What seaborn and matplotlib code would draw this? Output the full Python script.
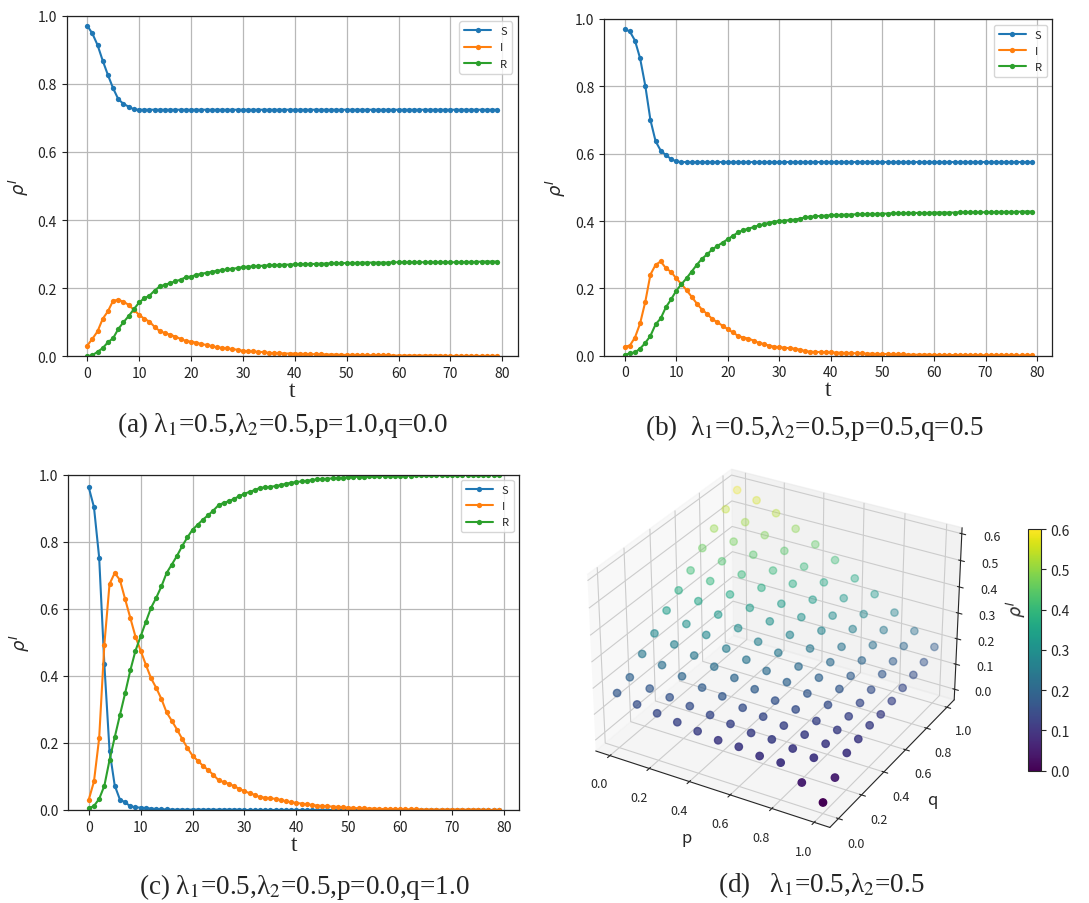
import numpy as np
import matplotlib
matplotlib.use("Agg")
import matplotlib.pyplot as plt
import seaborn as sns

# ==========================================
# Data
# ==========================================

t = list(range(80))

S_a = [0.971, 0.948, 0.914, 0.868, 0.826, 0.787, 0.755, 0.741, 0.733, 0.725,
       0.724, 0.724, 0.724, 0.724, 0.724, 0.724, 0.724, 0.724, 0.724, 0.724,
       0.724, 0.724, 0.724, 0.724, 0.724, 0.724, 0.724, 0.724, 0.724, 0.724,
       0.724, 0.724, 0.724, 0.724, 0.724, 0.724, 0.724, 0.724, 0.724, 0.724,
       0.724, 0.724, 0.724, 0.724, 0.724, 0.724, 0.724, 0.724, 0.724, 0.724,
       0.724, 0.724, 0.724, 0.724, 0.724, 0.724, 0.724, 0.724, 0.724, 0.724,
       0.724, 0.724, 0.724, 0.724, 0.724, 0.724, 0.724, 0.724, 0.724, 0.724,
       0.724, 0.724, 0.724, 0.724, 0.724, 0.724, 0.724, 0.724, 0.724, 0.724]
I_a = [0.031, 0.051, 0.073, 0.110, 0.132, 0.163, 0.166, 0.160, 0.151, 0.136,
       0.122, 0.110, 0.102, 0.086, 0.074, 0.068, 0.063, 0.058, 0.051, 0.045,
       0.043, 0.040, 0.036, 0.033, 0.030, 0.026, 0.025, 0.023, 0.021, 0.019,
       0.016, 0.015, 0.014, 0.013, 0.012, 0.010, 0.009, 0.009, 0.008, 0.008,
       0.008, 0.007, 0.007, 0.006, 0.006, 0.006, 0.005, 0.005, 0.005, 0.004,
       0.004, 0.004, 0.004, 0.003, 0.003, 0.003, 0.003, 0.003, 0.003, 0.002,
       0.002, 0.002, 0.002, 0.002, 0.002, 0.002, 0.002, 0.002, 0.002, 0.001,
       0.001, 0.001, 0.001, 0.001, 0.001, 0.001, 0.001, 0.001, 0.001, 0.001]
R_a = [0.000, 0.003, 0.013, 0.024, 0.041, 0.053, 0.080, 0.100, 0.118, 0.138,
       0.158, 0.170, 0.178, 0.193, 0.205, 0.210, 0.215, 0.220, 0.225, 0.232,
       0.234, 0.239, 0.242, 0.245, 0.248, 0.251, 0.253, 0.255, 0.257, 0.259,
       0.262, 0.263, 0.264, 0.265, 0.266, 0.267, 0.268, 0.268, 0.269, 0.269,
       0.270, 0.270, 0.271, 0.271, 0.271, 0.272, 0.272, 0.273, 0.273, 0.273,
       0.274, 0.274, 0.274, 0.275, 0.275, 0.275, 0.275, 0.275, 0.275, 0.276,
       0.276, 0.276, 0.276, 0.276, 0.276, 0.276, 0.276, 0.276, 0.276, 0.276,
       0.276, 0.276, 0.276, 0.277, 0.277, 0.277, 0.278, 0.278, 0.278, 0.278]

S_b = [0.970, 0.963, 0.936, 0.883, 0.802, 0.700, 0.637, 0.609, 0.596, 0.584,
       0.577, 0.575, 0.575, 0.575, 0.575, 0.575, 0.575, 0.575, 0.575, 0.575,
       0.575, 0.575, 0.575, 0.575, 0.575, 0.575, 0.575, 0.575, 0.575, 0.575,
       0.575, 0.575, 0.575, 0.575, 0.575, 0.575, 0.575, 0.575, 0.575, 0.575,
       0.575, 0.575, 0.575, 0.575, 0.575, 0.575, 0.575, 0.575, 0.575, 0.575,
       0.575, 0.575, 0.575, 0.575, 0.575, 0.575, 0.575, 0.575, 0.575, 0.575,
       0.575, 0.575, 0.575, 0.575, 0.575, 0.575, 0.575, 0.575, 0.575, 0.575,
       0.575, 0.575, 0.575, 0.575, 0.575, 0.575, 0.575, 0.575, 0.575, 0.575]
I_b = [0.027, 0.030, 0.054, 0.096, 0.160, 0.241, 0.270, 0.280, 0.260, 0.249,
       0.230, 0.213, 0.195, 0.175, 0.155, 0.137, 0.124, 0.109, 0.099, 0.089,
       0.079, 0.069, 0.059, 0.054, 0.051, 0.045, 0.038, 0.035, 0.030, 0.027,
       0.025, 0.024, 0.022, 0.021, 0.018, 0.014, 0.012, 0.011, 0.011, 0.010,
       0.010, 0.009, 0.009, 0.008, 0.008, 0.007, 0.007, 0.006, 0.006, 0.005,
       0.005, 0.005, 0.004, 0.004, 0.004, 0.003, 0.003, 0.003, 0.003, 0.003,
       0.002, 0.002, 0.002, 0.002, 0.002, 0.002, 0.002, 0.002, 0.002, 0.002,
       0.001, 0.001, 0.001, 0.001, 0.001, 0.001, 0.001, 0.001, 0.001, 0.001]
R_b = [0.003, 0.007, 0.010, 0.021, 0.038, 0.059, 0.093, 0.111, 0.144, 0.167,
       0.193, 0.212, 0.230, 0.250, 0.270, 0.288, 0.301, 0.316, 0.326, 0.336,
       0.346, 0.356, 0.366, 0.373, 0.377, 0.382, 0.387, 0.390, 0.395, 0.398,
       0.400, 0.401, 0.403, 0.404, 0.407, 0.411, 0.413, 0.414, 0.415, 0.416,
       0.417, 0.418, 0.418, 0.419, 0.419, 0.420, 0.420, 0.421, 0.421, 0.421,
       0.422, 0.422, 0.423, 0.423, 0.423, 0.424, 0.424, 0.424, 0.424, 0.424,
       0.425, 0.425, 0.425, 0.425, 0.425, 0.426, 0.426, 0.426, 0.426, 0.426,
       0.426, 0.426, 0.427, 0.427, 0.427, 0.427, 0.427, 0.428, 0.428, 0.428]

S_c = [0.962, 0.903, 0.753, 0.435, 0.177, 0.073, 0.031, 0.023, 0.011, 0.008,
       0.007, 0.006, 0.004, 0.003, 0.002, 0.002, 0.001, 0.001, 0.001, 0.001,
       0.001, 0.001, 0.001, 0.001, 0.001, 0.001, 0.001, 0.001, 0.001, 0.001,
       0.000, 0.000, 0.000, 0.000, 0.000, 0.000, 0.000, 0.000, 0.000, 0.000,
       0.000, 0.000, 0.000, 0.000, 0.000, 0.000, 0.000, 0.000, 0.000, 0.000,
       0.000, 0.000, 0.000, 0.000, 0.000, 0.000, 0.000, 0.000, 0.000, 0.000,
       0.000, 0.000, 0.000, 0.000, 0.000, 0.000, 0.000, 0.000, 0.000, 0.000,
       0.000, 0.000, 0.000, 0.000, 0.000, 0.000, 0.000, 0.000, 0.000, 0.000]
I_c = [0.031, 0.085, 0.214, 0.493, 0.674, 0.707, 0.686, 0.629, 0.573, 0.517,
       0.475, 0.433, 0.393, 0.364, 0.331, 0.291, 0.266, 0.240, 0.212, 0.185,
       0.162, 0.147, 0.132, 0.119, 0.105, 0.089, 0.083, 0.078, 0.071, 0.063,
       0.056, 0.050, 0.045, 0.038, 0.037, 0.035, 0.033, 0.030, 0.026, 0.023,
       0.021, 0.019, 0.017, 0.015, 0.013, 0.012, 0.011, 0.010, 0.009, 0.008,
       0.007, 0.006, 0.005, 0.005, 0.004, 0.004, 0.003, 0.003, 0.003, 0.002,
       0.002, 0.002, 0.002, 0.002, 0.001, 0.001, 0.001, 0.001, 0.001, 0.001,
       0.001, 0.001, 0.001, 0.001, 0.001, 0.001, 0.000, 0.000, 0.000, 0.000]
R_c = [0.005, 0.012, 0.033, 0.072, 0.149, 0.217, 0.283, 0.348, 0.416, 0.475,
       0.518, 0.561, 0.603, 0.633, 0.667, 0.707, 0.732, 0.758, 0.787, 0.813,
       0.836, 0.851, 0.866, 0.879, 0.893, 0.909, 0.916, 0.921, 0.928, 0.936,
       0.943, 0.949, 0.954, 0.961, 0.962, 0.964, 0.966, 0.969, 0.973, 0.976,
       0.978, 0.980, 0.982, 0.984, 0.986, 0.987, 0.988, 0.989, 0.990, 0.991,
       0.992, 0.993, 0.994, 0.994, 0.995, 0.995, 0.996, 0.996, 0.996, 0.997,
       0.997, 0.997, 0.997, 0.998, 0.998, 0.998, 0.998, 0.998, 0.998, 0.998,
       0.999, 0.999, 0.999, 0.999, 0.999, 0.999, 0.999, 0.999, 0.999, 0.999]

# panel (d): rho^I on a p x q grid (rows = q, columns = p)
p_vals = [0.0, 0.1, 0.2, 0.3, 0.4, 0.5, 0.6, 0.7, 0.8, 0.9, 1.0]
q_vals = [0.0, 0.1, 0.2, 0.3, 0.4, 0.5, 0.6, 0.7, 0.8, 0.9, 1.0]
rho_grid = [
    [0.17, 0.15, 0.14, 0.13, 0.12, 0.11, 0.11, 0.10, 0.10, 0.05, 0.00],
    [0.19, 0.17, 0.16, 0.15, 0.14, 0.13, 0.12, 0.12, 0.11, 0.10, 0.05],
    [0.24, 0.22, 0.20, 0.18, 0.17, 0.15, 0.14, 0.13, 0.12, 0.11, 0.10],
    [0.28, 0.26, 0.24, 0.22, 0.20, 0.18, 0.16, 0.15, 0.13, 0.12, 0.11],
    [0.33, 0.30, 0.28, 0.25, 0.23, 0.21, 0.19, 0.17, 0.15, 0.13, 0.12],
    [0.37, 0.35, 0.32, 0.29, 0.26, 0.24, 0.21, 0.19, 0.17, 0.14, 0.12],
    [0.41, 0.39, 0.36, 0.33, 0.30, 0.27, 0.24, 0.21, 0.18, 0.15, 0.13],
    [0.46, 0.43, 0.40, 0.37, 0.33, 0.30, 0.27, 0.23, 0.20, 0.17, 0.14],
    [0.50, 0.47, 0.44, 0.40, 0.37, 0.33, 0.29, 0.26, 0.22, 0.18, 0.15],
    [0.54, 0.51, 0.48, 0.44, 0.40, 0.36, 0.32, 0.28, 0.24, 0.20, 0.16],
    [0.58, 0.56, 0.53, 0.49, 0.45, 0.41, 0.36, 0.32, 0.27, 0.22, 0.18],
]

captions = [
    "(a) λ$_1$=0.5,λ$_2$=0.5,p=1.0,q=0.0",
    "(b)  λ$_1$=0.5,λ$_2$=0.5,p=0.5,q=0.5",
    "(c) λ$_1$=0.5,λ$_2$=0.5,p=0.0,q=1.0",
    "(d)   λ$_1$=0.5,λ$_2$=0.5",
]

# ==========================================
# Style
# ==========================================

sns.set_style("white")
plt.rcParams["font.family"] = ["Noto Sans CJK SC", "DejaVu Sans"]
plt.rcParams["mathtext.fontset"] = "dejavusans"
plt.rcParams["axes.unicode_minus"] = False

colors = ["#1f77b4", "#ff7f0e", "#2ca02c"]

fig = plt.figure(figsize=(10.89, 9.04), dpi=100)

# ==========================================
# Line panels (a), (b), (c)
# ==========================================

rects = [
    [0.0612, 0.6048, 0.4142, 0.3767],
    [0.5549, 0.6054, 0.4114, 0.3725],
    [0.0627, 0.1029, 0.4141, 0.3709],
]
series = [(S_a, I_a, R_a), (S_b, I_b, R_b), (S_c, I_c, R_c)]

for rect, (S, I, R) in zip(rects, series):
    ax = fig.add_axes(rect)
    for vals, name, col in zip((S, I, R), ("S", "I", "R"), colors):
        sns.lineplot(x=t, y=vals, ax=ax, color=col, label=name,
                     marker="o", markersize=3.8, markeredgewidth=0,
                     linewidth=1.5)
    ax.set_ylim(0, 1.0)
    ax.set_xlim(-3.95, 82.95)
    ax.set_xticks(range(0, 81, 10))
    ax.set_yticks(np.arange(0, 1.01, 0.2))
    ax.set_yticklabels([f"{v:.1f}" for v in np.arange(0, 1.01, 0.2)])
    ax.tick_params(labelsize=10, direction="out", length=3.5, width=0.8,
                   colors="#222222", left=True, bottom=True)
    ax.grid(True, color="#b8b8b8", linewidth=0.9)
    for sp in ax.spines.values():
        sp.set_color("#222222")
        sp.set_linewidth(0.9)
    ax.set_xlabel("t", fontsize=17, family="Liberation Serif", labelpad=0)
    ax.set_ylabel(r"$\rho^I$", fontsize=13, labelpad=5)
    ax.legend(loc="upper right", fontsize=8, handlelength=2.4,
              labelspacing=0.55, borderpad=0.45, framealpha=0.8,
              edgecolor="#cccccc")

# ==========================================
# 3D panel (d)
# ==========================================

P, Q = np.meshgrid(p_vals, q_vals)
Z = np.array(rho_grid)

ax3 = fig.add_axes([0.502, 0.0545, 0.415, 0.461], projection="3d")
sc = ax3.scatter(P.ravel(), Q.ravel(), Z.ravel(), c=Z.ravel(),
                 cmap="viridis", vmin=0.0, vmax=0.6, s=28)
ax3.set_xticks([0.0, 0.2, 0.4, 0.6, 0.8, 1.0])
ax3.set_yticks([0.0, 0.2, 0.4, 0.6, 0.8, 1.0])
ax3.set_zticks([0.0, 0.1, 0.2, 0.3, 0.4, 0.5, 0.6])
ax3.tick_params(labelsize=9)
ax3.tick_params(axis="z", pad=5)
ax3.set_xlabel("p", fontsize=12)
ax3.set_ylabel("q", fontsize=12)
ax3.set_zlabel(r"$\rho^I$", fontsize=12, labelpad=5)

cax = fig.add_axes([0.9437, 0.1463, 0.0122, 0.2674])
cb = fig.colorbar(sc, cax=cax)
cb.set_ticks([0.0, 0.1, 0.2, 0.3, 0.4, 0.5, 0.6])
cb.ax.tick_params(labelsize=10, length=3.5)

# ==========================================
# Captions
# ==========================================

cap_pos = [(0.259, 0.530), (0.748, 0.526), (0.279, 0.019), (0.754, 0.021)]
for (x, y), txt in zip(cap_pos, captions):
    fig.text(x, y, txt, ha="center", va="center", fontsize=19.5,
             family="Liberation Serif", math_fontfamily="stix")

plt.savefig("out.png", dpi=100)
